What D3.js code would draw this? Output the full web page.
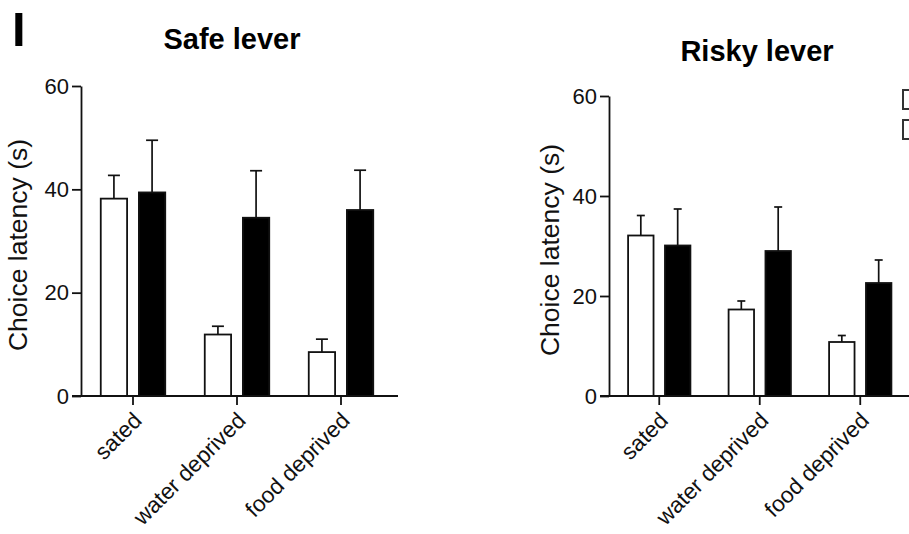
<!DOCTYPE html>
<html>
<head>
<meta charset="utf-8">
<script src="https://cdn.jsdelivr.net/npm/d3@7"></script>
<style>
  body { margin: 0; background: #fff; }
  svg { display: block; font-family: "Liberation Sans", Arial, sans-serif; }
</style>
</head>
<body>
<div id="chart"></div>
<script>
// data (mean and upper error, seconds)
const conditions = ["sated", "water deprived", "food deprived"];
const groups = ["white", "black"];
const yTicks = [0, 20, 40, 60];

const safeMean = [[38.2, 39.4], [11.9, 34.5], [8.5, 36.0]];
const safeErr = [[42.7, 49.5], [13.5, 43.6], [11.0, 43.7]];
const riskyMean = [[32.1, 30.1], [17.3, 29.0], [10.8, 22.6]];
const riskyErr = [[36.1, 37.4], [19.0, 37.8], [12.1, 27.2]];

const W = 909, H = 534;
const svg = d3.select("#chart").append("svg")
  .attr("width", W).attr("height", H);

// panel letter
svg.append("text")
  .attr("x", 12).attr("y", 46)
  .attr("font-size", 49).attr("font-weight", "bold")
  .text("I");

function panel(opts) {
  const { left, top, bottom, step, title, titleX, titleY, mean, err, cap, labelX } = opts;

  const x0 = d3.scaleBand().domain(conditions).range([left, left + step * conditions.length]);
  const x1 = d3.scaleBand().domain(groups)
    .range([x0.bandwidth() * 0.19, x0.bandwidth() * 0.81]).paddingInner(0.31);
  const y = d3.scaleLinear().domain([0, 60]).range([bottom, top]);

  const rows = [];
  conditions.forEach((c, i) => groups.forEach((g, j) => {
    rows.push({ c, g, v: mean[i][j], e: err[i][j] });
  }));

  const g = svg.append("g");

  // error bars (upper only)
  const eb = g.selectAll(".eb").data(rows).join("g");
  eb.append("line")
    .attr("x1", d => x0(d.c) + x1(d.g) + x1.bandwidth() / 2)
    .attr("x2", d => x0(d.c) + x1(d.g) + x1.bandwidth() / 2)
    .attr("y1", d => y(d.v)).attr("y2", d => y(d.e))
    .attr("stroke", "#111").attr("stroke-width", 1.7);
  eb.append("line")
    .attr("x1", d => x0(d.c) + x1(d.g) + x1.bandwidth() / 2 - cap / 2)
    .attr("x2", d => x0(d.c) + x1(d.g) + x1.bandwidth() / 2 + cap / 2)
    .attr("y1", d => y(d.e)).attr("y2", d => y(d.e))
    .attr("stroke", "#111").attr("stroke-width", 1.7);

  // bars
  g.selectAll(".bar").data(rows).join("rect")
    .attr("x", d => x0(d.c) + x1(d.g))
    .attr("y", d => y(d.v))
    .attr("width", x1.bandwidth())
    .attr("height", d => y(0) - y(d.v))
    .attr("fill", d => d.g === "white" ? "#fff" : "#000")
    .attr("stroke", "#111").attr("stroke-width", 1.8);

  // y axis
  const ya = g.append("g")
    .attr("transform", `translate(${left},0)`)
    .call(d3.axisLeft(y).tickValues(yTicks).tickSize(9).tickSizeOuter(0).tickPadding(3));
  ya.select(".domain").attr("stroke", "#111").attr("stroke-width", 1.8);
  ya.selectAll(".tick line").attr("stroke", "#111").attr("stroke-width", 1.8);
  ya.selectAll(".tick text").attr("font-size", 22).attr("fill", "#111")
    .attr("font-family", "Liberation Sans, Arial, sans-serif");

  // x axis
  const xa = g.append("g")
    .attr("transform", `translate(0,${bottom})`)
    .call(d3.axisBottom(x0).tickSize(9).tickSizeOuter(0));
  xa.select(".domain").remove();
  xa.append("line")
    .attr("x1", x0.range()[0] - 9).attr("x2", x0.range()[1] + 5)
    .attr("stroke", "#111").attr("stroke-width", 1.8);
  xa.selectAll(".tick line").attr("stroke", "#111").attr("stroke-width", 1.8);
  xa.selectAll(".tick text")
    .attr("font-size", 22.5).attr("fill", "#111")
    .attr("font-family", "Liberation Sans, Arial, sans-serif")
    .attr("text-anchor", "end")
    .attr("dy", null).attr("y", null)
    .attr("transform", "translate(10,26) rotate(-45)");

  // y label
  g.append("text")
    .attr("transform", `translate(${labelX},${(top + bottom) / 2 + 4}) rotate(-90)`)
    .attr("text-anchor", "middle")
    .attr("font-size", 26.5).attr("fill", "#111")
    .text("Choice latency (s)");

  // title
  g.append("text")
    .attr("x", titleX).attr("y", titleY)
    .attr("text-anchor", "middle")
    .attr("font-size", 29).attr("font-weight", "bold")
    .text(title);
}

panel({ left: 81, top: 86, bottom: 396, step: 104, title: "Safe lever", titleX: 232, titleY: 49,
  mean: safeMean, err: safeErr, cap: 12, labelX: 27 });
panel({ left: 609, top: 96, bottom: 396, step: 100.5, title: "Risky lever", titleX: 757, titleY: 61,
  mean: riskyMean, err: riskyErr, cap: 8, labelX: 559 });

// legend keys, cut off at the right edge of the figure
svg.selectAll(".key").data(groups).join("rect")
  .attr("x", 903)
  .attr("y", (d, i) => 90 + i * 30)
  .attr("width", 18).attr("height", 19)
  .attr("fill", "#fff")
  .attr("stroke", "#333").attr("stroke-width", 2);
</script>
</body>
</html>
